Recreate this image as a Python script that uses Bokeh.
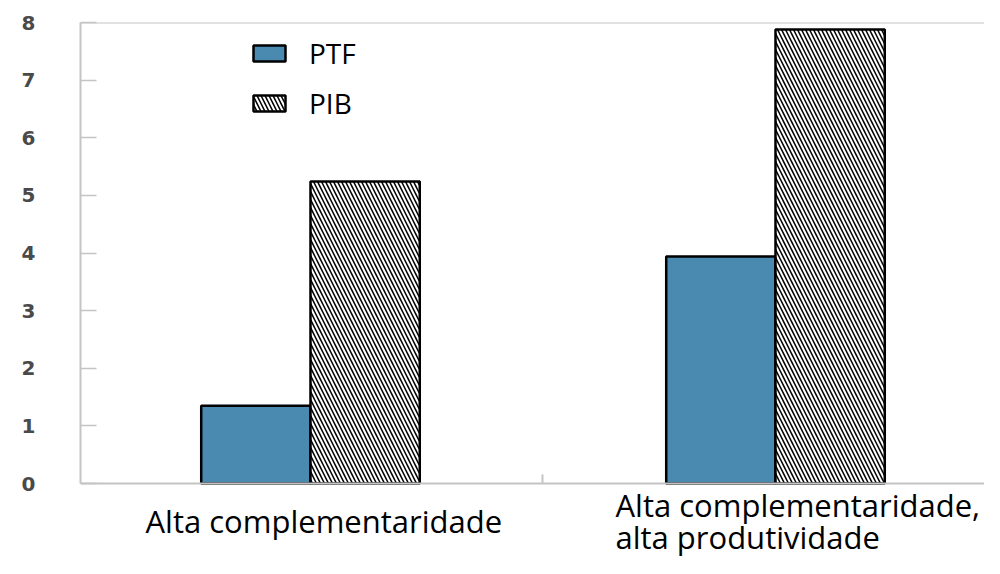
from bokeh.plotting import figure
from bokeh.models import (Range1d, FixedTicker, Legend, LegendItem, Span,
                          ColumnDataSource, LinearAxis)
from bokeh.core.properties import value
from bokeh.embed import file_html
from bokeh.resources import INLINE

# ---- data ----
categories = ["Alta complementaridade", "Alta complementaridade,\nalta produtividade"]
ptf_values = [1.35, 3.94]
pib_values = [5.24, 7.88]
series_names = ["PTF", "PIB"]
y_ticks = [0, 1, 2, 3, 4, 5, 6, 7, 8]

# ---- layout ----
W, H = 984, 558
frame_top = 22
zero_px = 483                      # pixel row of y = 0
px_per_y = (zero_px - frame_top) / 8.0
y_bottom = -(H - zero_px) / px_per_y

bar_w = 0.235
px_per_unit = 465.0
centers = [i + 0.5 for i in range(len(categories))]
x_start = 0.0054
x_end = x_start + (W - 80) / px_per_unit

p = figure(width=W, height=H, output_backend="svg", toolbar_location=None,
           x_range=Range1d(x_start, x_end), y_range=Range1d(y_bottom, 8),
           x_axis_location=None,
           min_border_left=80, min_border_right=0, min_border_top=frame_top,
           min_border_bottom=0)
p.outline_line_color = None
p.xgrid.visible = False
p.ygrid.visible = False
p.background_fill_color = "white"
p.border_fill_color = "white"

src_ptf = ColumnDataSource(dict(x=[c - bar_w / 2 for c in centers], top=ptf_values))
src_pib = ColumnDataSource(dict(x=[c + bar_w / 2 for c in centers], top=pib_values))

r_ptf = p.vbar(x="x", top="top", bottom=0, width=bar_w, source=src_ptf,
               fill_color="#4a89b0", line_color="black", line_width=2.5)
r_pib = p.vbar(x="x", top="top", bottom=0, width=bar_w, source=src_pib,
               fill_color="white", line_color="black", line_width=2.5,
               hatch_pattern="\\", hatch_color="black", hatch_scale=8,
               hatch_weight=1.5)

axis_gray = "#c4c4c4"

# y axis
ya = p.yaxis[0]
ya.ticker = FixedTicker(ticks=y_ticks)
ya.bounds = (0, 8)
ya.axis_line_color = axis_gray
ya.axis_line_width = 2
ya.major_tick_line_color = axis_gray
ya.major_tick_line_width = 1.5
ya.major_tick_in = 16
ya.major_tick_out = 0
ya.minor_tick_line_color = None
ya.major_label_standoff = 45
ya.major_label_text_font = "DejaVu Sans"
ya.major_label_text_font_style = "bold"
ya.major_label_text_font_size = "20px"
ya.major_label_text_color = "#4a4a4a"

# x axis drawn at y = 0 (placed in the top panel so it takes no room below);
# only the separator tick between the two groups, pointing up
xa = LinearAxis(fixed_location=0, ticker=FixedTicker(ticks=[1.0]))
xa.axis_line_color = axis_gray
xa.axis_line_width = 2
xa.major_tick_line_color = axis_gray
xa.major_tick_line_width = 2
xa.major_tick_in = 0
xa.major_tick_out = 9
xa.minor_tick_line_color = None
xa.major_label_text_alpha = 0
xa.major_label_text_font_size = "1px"
p.add_layout(xa, "above")

# top line
p.add_layout(Span(location=8, dimension="width", line_color=axis_gray, line_width=2))

# category labels, left aligned (screen offsets from category centre / y = 0)
label_dx = [-165, -160]
label_dy = [37, 21]
line_step = 32
lx, ly, lt, lyo = [], [], [], []
for c, text, dx, dy in zip(centers, categories, label_dx, label_dy):
    for k, line in enumerate(text.split("\n")):
        lx.append(c + dx / px_per_unit)
        ly.append(0)
        lt.append(line)
        lyo.append(dy + line_step * k)
p.text(x="x", y="y", text="t", y_offset="yo",
       source=ColumnDataSource(dict(x=lx, y=ly, t=lt, yo=lyo)),
       text_font=value("Open Sans"), text_font_size="31px",
       text_color="black", text_align="left", text_baseline="alphabetic")

legend = Legend(items=[LegendItem(label=series_names[0], renderers=[r_ptf]),
                       LegendItem(label=series_names[1], renderers=[r_pib])],
                location=(169, 436), border_line_color=None,
                background_fill_alpha=0, padding=0, margin=0,
                glyph_width=40, glyph_height=20, label_standoff=20,
                spacing=12, label_text_font="Open Sans",
                label_text_font_size="28px", label_text_color="black")
p.add_layout(legend)

open("out.html", "w").write(file_html(p, INLINE))
